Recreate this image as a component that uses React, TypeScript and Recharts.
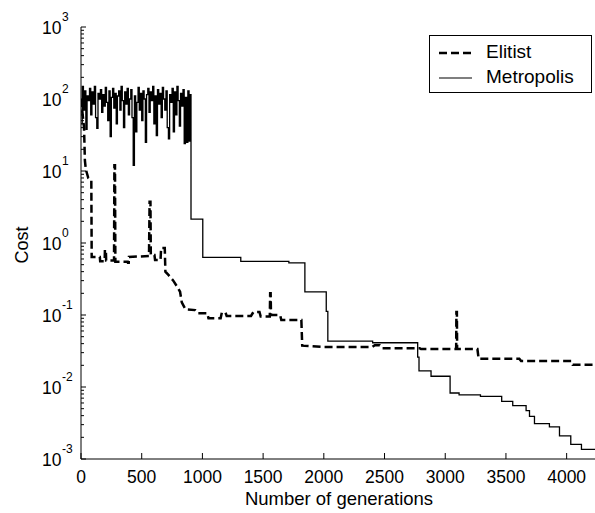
import React from 'react';
import { LineChart, Line, XAxis, YAxis, Legend, Label } from 'recharts';

// [generation, cost]
const metropolis: [number, number][] = [
  [0, 45], [10, 150], [20, 70], [30, 130], [40, 38], [50, 110], [60, 95], [70, 140], [80, 60], [90, 125],
  [100, 85], [110, 150], [120, 55], [130, 39], [140, 120], [150, 100], [160, 135], [170, 65], [180, 115], [190, 80],
  [200, 145], [210, 90], [220, 50], [230, 130], [240, 30], [250, 105], [260, 140], [270, 75], [280, 120], [290, 45],
  [300, 110], [310, 130], [320, 70], [330, 150], [340, 95], [350, 40], [360, 125], [370, 85], [380, 140], [390, 60],
  [400, 100], [410, 135], [420, 55], [430, 12], [440, 110], [450, 35], [460, 90], [470, 145], [480, 70], [490, 120],
  [500, 50], [510, 130], [520, 100], [530, 25], [540, 115], [550, 140], [560, 65], [570, 125], [580, 95], [590, 150],
  [600, 45], [610, 110], [620, 31], [630, 135], [640, 85], [650, 120], [660, 55], [670, 145], [680, 100], [690, 70],
  [700, 130], [710, 40], [720, 28], [730, 115], [740, 90], [750, 140], [760, 35], [770, 125], [780, 60], [790, 150],
  [800, 95], [810, 42], [820, 120], [830, 80], [840, 135], [850, 24], [860, 105], [870, 25], [880, 130], [890, 26],
  [900, 115], [906, 2.15], [1003, 0.63], [1316, 0.557], [1712, 0.528], [1844, 0.209], [2020, 0.112], [2033, 0.0435],
  [2402, 0.0412], [2773, 0.026], [2784, 0.0168], [2883, 0.0141], [3040, 0.00826], [3114, 0.00778], [3290, 0.0074],
  [3465, 0.0063], [3556, 0.0055], [3666, 0.0047], [3694, 0.0039], [3735, 0.0031], [3858, 0.0028], [3941, 0.0021],
  [4034, 0.0016], [4122, 0.00136], [4250, 0.00136],
];

const elitist: [number, number][] = [
  [0, 100], [25, 40], [32, 14], [40, 10.5], [60, 8], [85, 7.5], [88, 0.64], [155, 0.64], [158, 0.56], [195, 0.56],
  [197, 0.8], [205, 0.8], [207, 0.57], [272, 0.57], [275, 12], [280, 12], [283, 0.55], [385, 0.55], [387, 0.53],
  [393, 0.53], [395, 0.64], [560, 0.66], [565, 3.75], [572, 3.75], [575, 0.68], [605, 0.68], [610, 0.58], [655, 0.58],
  [660, 0.85], [690, 0.85], [695, 0.4], [720, 0.36], [760, 0.3], [790, 0.25], [816, 0.21], [830, 0.15], [860, 0.12],
  [940, 0.117], [960, 0.106], [1040, 0.106], [1050, 0.09], [1150, 0.09], [1160, 0.108], [1190, 0.108], [1200, 0.097],
  [1400, 0.097], [1420, 0.11], [1470, 0.11], [1480, 0.095], [1555, 0.095], [1558, 0.2], [1562, 0.2], [1565, 0.1],
  [1640, 0.1], [1650, 0.085], [1815, 0.085], [1822, 0.0375], [2000, 0.036], [2400, 0.036], [2420, 0.038], [2460, 0.038],
  [2480, 0.0345], [2790, 0.0345], [2800, 0.0337], [3090, 0.0337], [3092, 0.11], [3096, 0.11], [3098, 0.0337],
  [3265, 0.0337], [3275, 0.0247], [3610, 0.0247], [3625, 0.0229], [4040, 0.0229], [4050, 0.0204], [4250, 0.0204],
];

const genTicks = [0, 500, 1000, 1500, 2000, 2500, 3000, 3500, 4000];
const decades = [-3, -2, -1, 0, 1, 2, 3];

const FONT = '"Liberation Sans", Arial, sans-serif';

const metroData = metropolis.map(([gen, cost]) => ({ gen, cost }));
const eliteData = elitist.map(([gen, cost]) => ({ gen, cost }));

const costTicks: number[] = [];
decades.forEach((d) => {
  const base = Math.pow(10, d);
  costTicks.push(base);
  if (d < 3) for (let m = 2; m <= 9; m++) costTicks.push(m * base);
});

const BottomTick = (props: any) => {
  const { x, y, payload } = props;
  return (
    <g>
      <line x1={x} y1={y} x2={x} y2={y - 6} stroke="#000" />
      <text x={x} y={y + 24} textAnchor="middle" fontSize={17.5} fontFamily={FONT} fill="#000">
        {payload.value}
      </text>
    </g>
  );
};

const TopTick = (props: any) => {
  const { x, y } = props;
  return <line x1={x} y1={y} x2={x} y2={y + 6} stroke="#000" />;
};

const CostTick = (props: any) => {
  const { x, y, payload } = props;
  const lg = Math.log10(payload.value);
  const exp = Math.round(lg);
  const major = Math.abs(lg - exp) < 1e-9;
  return (
    <g>
      <line x1={x} y1={y} x2={x + (major ? 5 : 3)} y2={y} stroke="#000" />
      {major && (
        <text fontFamily={FONT} fill="#000">
          <tspan x={x - 39} y={y + 7} fontSize={17.5}>10</tspan>
          <tspan x={x - 19} y={y - 6} fontSize={12}>{exp}</tspan>
        </text>
      )}
    </g>
  );
};

const LegendBox = () => (
  <div
    style={{
      border: '1px solid #000',
      background: '#fff',
      width: 161,
      height: 56,
      fontFamily: FONT,
      fontSize: 19,
      color: '#000',
      position: 'relative',
    }}
  >
    <svg width={50} height={56} style={{ position: 'absolute', left: 0, top: 0 }}>
      <line x1={9} y1={17} x2={42} y2={17} stroke="#000" strokeWidth={2.5} strokeDasharray="8 4" />
      <line x1={9} y1={42} x2={42} y2={42} stroke="#000" strokeWidth={1.2} />
    </svg>
    <div style={{ position: 'absolute', left: 56, top: 6, lineHeight: '20px' }}>Elitist</div>
    <div style={{ position: 'absolute', left: 56, top: 31, lineHeight: '20px' }}>Metropolis</div>
  </div>
);

export default function App() {
  return (
    <div style={{ position: 'absolute', left: 0, top: 0, width: 600, height: 513, background: '#fff' }}>
      <LineChart width={600} height={513} margin={{ top: 27, right: 3, left: 0, bottom: 0 }}>
        <XAxis
          dataKey="gen"
          type="number"
          domain={[0, 4250]}
          ticks={genTicks}
          interval={0}
          allowDataOverflow
          height={54}
          tickSize={0}
          tickMargin={0}
          tick={BottomTick}
          axisLine={{ stroke: '#000' }}
        >
          <Label
            value="Number of generations"
            position="insideBottom"
            offset={8}
            style={{ fontFamily: FONT, fontSize: 18.5, fill: '#000' }}
          />
        </XAxis>
        <XAxis
          xAxisId="top"
          orientation="top"
          dataKey="gen"
          type="number"
          domain={[0, 4250]}
          ticks={genTicks}
          interval={0}
          height={0}
          tickSize={0}
          tickMargin={0}
          tick={TopTick}
          axisLine={{ stroke: '#000' }}
        />
        <YAxis
          dataKey="cost"
          type="number"
          scale="log"
          domain={[0.001, 1000]}
          ticks={costTicks}
          interval={0}
          allowDataOverflow
          width={81}
          tickSize={0}
          tickMargin={0}
          tick={CostTick}
          axisLine={{ stroke: '#000' }}
        >
          <Label
            content={() => (
              <text
                transform="translate(22,245) rotate(-90)"
                textAnchor="middle"
                dominantBaseline="central"
                fontFamily={FONT}
                fontSize={18}
                fill="#000"
              >
                Cost
              </text>
            )}
          />
        </YAxis>
        <Legend
          layout="vertical"
          align="center"
          verticalAlign="middle"
          content={LegendBox}
          wrapperStyle={{ position: 'absolute', left: 429, top: 35, width: 163, height: 58 }}
        />
        <Line
          data={eliteData}
          dataKey="cost"
          name="Elitist"
          type="linear"
          stroke="#000"
          strokeWidth={2.5}
          strokeDasharray="8 4"
          dot={false}
          isAnimationActive={false}
        />
        <Line
          data={metroData}
          dataKey="cost"
          name="Metropolis"
          type="stepAfter"
          stroke="#000"
          strokeWidth={1.3}
          dot={false}
          isAnimationActive={false}
        />
      </LineChart>
    </div>
  );
}
